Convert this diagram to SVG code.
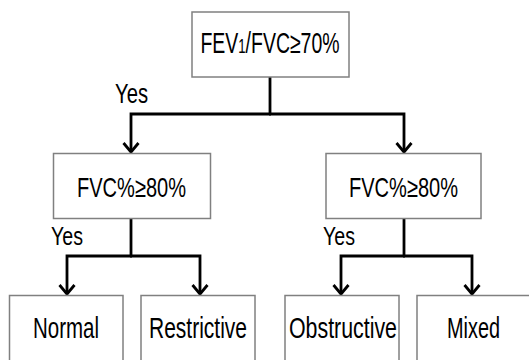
<svg xmlns="http://www.w3.org/2000/svg" width="529" height="360" viewBox="0 0 529 360">
<style>
.box{fill:#fff;stroke:#808080;stroke-width:1.5}
.t{font-family:"Liberation Sans",Arial,sans-serif;fill:#000}
.c{fill:none;stroke:#000;stroke-width:2.8}
</style>
<defs>
<marker id="ah" markerUnits="userSpaceOnUse" markerWidth="20" markerHeight="20" viewBox="-12 -10 14 20" refX="0" refY="0" orient="auto">
<path d="M-9,-7.5 L0,0 L-9,7.5" fill="none" stroke="#000" stroke-width="2.8"/>
</marker>
</defs>
<rect width="529" height="360" fill="#fff"/>
<g id="connectors">
<path class="c" d="M270,77 V114"/>
<path class="c" d="M271,114 H131 V152" marker-end="url(#ah)"/>
<path class="c" d="M269,114 H404 V152" marker-end="url(#ah)"/>
<path class="c" d="M131,219 V256"/>
<path class="c" d="M132,256 H67 V294" marker-end="url(#ah)"/>
<path class="c" d="M130,256 H200 V294" marker-end="url(#ah)"/>
<path class="c" d="M404,219 V256"/>
<path class="c" d="M405,256 H341 V294" marker-end="url(#ah)"/>
<path class="c" d="M403,256 H472 V294" marker-end="url(#ah)"/>
<text class="t" x="115" y="103" font-size="28" textLength="33" lengthAdjust="spacingAndGlyphs">Yes</text>
<text class="t" x="51" y="245" font-size="26" textLength="32" lengthAdjust="spacingAndGlyphs">Yes</text>
<text class="t" x="323" y="245" font-size="26" textLength="32" lengthAdjust="spacingAndGlyphs">Yes</text>
</g>
<g id="root">
<rect class="box" x="192" y="12" width="157" height="65"/>
<text class="t" transform="translate(270,53) scale(0.66,1)" text-anchor="middle" font-size="29.5">FEV<tspan font-size="20">1</tspan>/FVC≥70%</text>
</g>
<g id="fvc-left">
<rect class="box" x="53.5" y="153.5" width="157" height="65"/>
<text class="t" x="77" y="197" font-size="28" textLength="109" lengthAdjust="spacingAndGlyphs">FVC%≥80%</text>
</g>
<g id="fvc-right">
<rect class="box" x="326" y="153.5" width="155" height="65"/>
<text class="t" x="349" y="197" font-size="28" textLength="109" lengthAdjust="spacingAndGlyphs">FVC%≥80%</text>
</g>
<g id="normal">
<rect class="box" x="9.5" y="295.5" width="113.5" height="70"/>
<text class="t" x="33" y="338" font-size="30" textLength="66" lengthAdjust="spacingAndGlyphs">Normal</text>
</g>
<g id="restrictive">
<rect class="box" x="141" y="295.5" width="114" height="70"/>
<text class="t" x="149" y="338" font-size="30" textLength="98" lengthAdjust="spacingAndGlyphs">Restrictive</text>
</g>
<g id="obstructive">
<rect class="box" x="285" y="295.5" width="114" height="70"/>
<text class="t" x="289" y="338" font-size="30" textLength="108" lengthAdjust="spacingAndGlyphs">Obstructive</text>
</g>
<g id="mixed">
<rect class="box" x="417" y="295.5" width="114" height="70"/>
<text class="t" x="447" y="338" font-size="30" textLength="53" lengthAdjust="spacingAndGlyphs">Mixed</text>
</g>
</svg>
